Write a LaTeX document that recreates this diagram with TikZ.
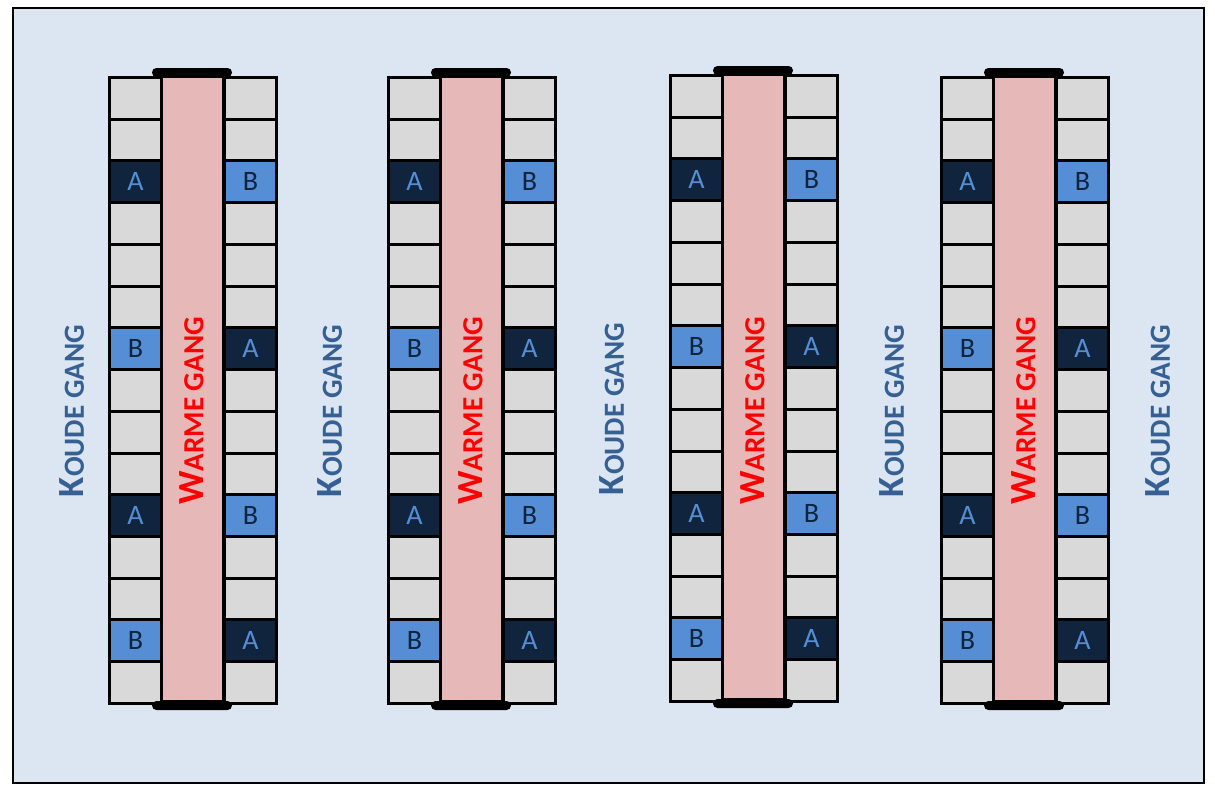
\documentclass[tikz,border=0pt]{standalone}
\usepackage{fontspec}
\setmainfont{Carlito}
\usetikzlibrary{positioning}

\definecolor{vloer}{HTML}{DCE6F2}
\definecolor{grijs}{HTML}{D9D9D9}
\definecolor{donker}{HTML}{10243E}
\definecolor{licht}{HTML}{558ED5}
\definecolor{roze}{HTML}{E6B9B8}
\definecolor{koud}{HTML}{376092}

% fake small caps
\newcommand{\gangtekst}[2]{\bfseries{\fontsize{21}{20}\selectfont #1}{\fontsize{16.6}{16}\selectfont #2}}

% one rack row: #1 name, #2 x, #3 y of the top left corner
\newcommand{\rackrij}[3]{%
  \node[warmstrook] (#1w) at (#2+83.5, #3+313) {};
  \node[warmgang] (#1t) at (#2+83.5, 411) {\gangtekst{W}{ARME GANG}};
  \foreach \r/\lt/\rt in {1//,2//,3/A/B,4//,5//,6//,7/B/A,8//,9//,10//,11/A/B,12//,13//,14/B/A,15//} {
    \node[vak\lt, anchor=north west] (#1l\r) at (#2, {#3+(\r-1)*41.73}) {\lt};
    \node[vak\rt, anchor=north west] (#1r\r) at (#2+115, {#3+(\r-1)*41.73}) {\rt};
  }
  \fill[rounded corners=2.5pt] (#2+44, #3-8) rectangle (#2+124, #3+1);
  \fill[rounded corners=2.5pt] (#2+44, #3+625) rectangle (#2+124, #3+634);
}

\begin{document}
\begin{tikzpicture}[x=0.02cm, y=-0.02cm,
    vak/.style={draw, line width=1.7pt, fill=grijs, minimum width=1.04cm, minimum height=0.8346cm, inner sep=0pt,
      font=\fontsize{16}{16}\selectfont},
    vakA/.style={vak, fill=donker, text=licht},
    vakB/.style={vak, fill=licht, text=donker},
    warmstrook/.style={draw, line width=1.7pt, fill=roze, minimum width=1.26cm, minimum height=12.52cm, inner sep=0pt},
    warmgang/.style={text=red, rotate=90},
    koudegang/.style={text=koud, rotate=90}]
  \useasboundingbox (0,0) rectangle (1215,799);
  \draw[line width=1.5pt, fill=vloer] (13,8) rectangle (1204,783);

  \rackrij{a}{108}{76}
  \rackrij{b}{387}{76}
  \rackrij{c}{669}{74}
  \rackrij{d}{940}{76}

  \node[koudegang] (k1) at (72,411) {\gangtekst{K}{OUDE GANG}};
  \node[koudegang] (k2) at (330,411) {\gangtekst{K}{OUDE GANG}};
  \node[koudegang] (k3) at (612,409) {\gangtekst{K}{OUDE GANG}};
  \node[koudegang] (k4) at (892,411) {\gangtekst{K}{OUDE GANG}};
  \node[koudegang] (k5) at (1158,411) {\gangtekst{K}{OUDE GANG}};
\end{tikzpicture}
\end{document}
